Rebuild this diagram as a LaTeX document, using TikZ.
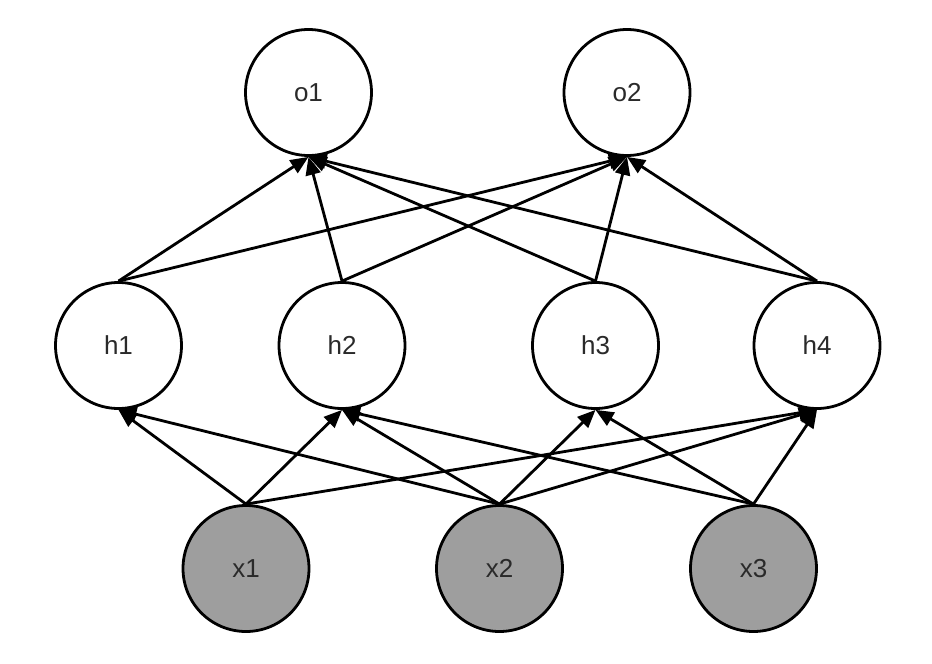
\documentclass[tikz,border=0pt]{standalone}
\usepackage{fontspec}
\setmainfont{Liberation Sans}
\usetikzlibrary{arrows.meta}
\definecolor{nodefill}{HTML}{9E9E9E}
\definecolor{txt}{HTML}{2A2A2A}
\begin{document}
\begin{tikzpicture}[x=1pt,y=-1pt,
  neuron/.style={circle,draw=black,line width=2.8pt,minimum size=126pt,inner sep=0pt,
    font=\fontsize{26}{30}\selectfont,text=txt,fill=white},
  inputn/.style={neuron,fill=nodefill},
  conn/.style={line width=2.8pt,-{Triangle[length=18pt,width=15pt]}}]
\useasboundingbox (0,0) rectangle (932,664);
\node[neuron] (o1) at (308.5,92.5) {o1};
\node[neuron] (o2) at (627,92.5) {o2};
\node[neuron] (h1) at (118.5,345.5) {h1};
\node[neuron] (h2) at (342,345.5) {h2};
\node[neuron] (h3) at (595.5,345.5) {h3};
\node[neuron] (h4) at (817,345.5) {h4};
\node[inputn] (x1) at (246,568.5) {x1};
\node[inputn] (x2) at (499.5,568.5) {x2};
\node[inputn] (x3) at (753.5,568.5) {x3};
\foreach \s/\t in {x1/h1,x1/h2,x1/h4,x2/h1,x2/h2,x2/h3,x2/h4,x3/h2,x3/h3,x3/h4,
  h1/o1,h2/o1,h3/o1,h4/o1,h1/o2,h2/o2,h3/o2,h4/o2}
  \draw[conn] (\s.north) -- (\t.south);
\end{tikzpicture}
\end{document}
